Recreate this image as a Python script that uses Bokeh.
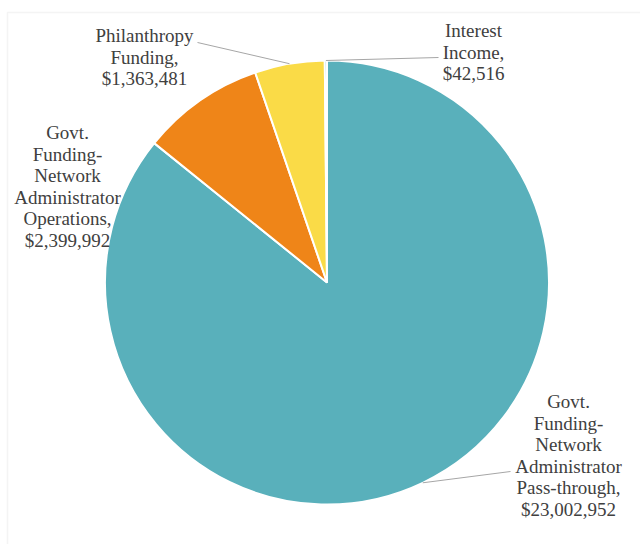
import numpy as np
from bokeh.plotting import figure
from bokeh.models import Range1d, ColumnDataSource, BoxAnnotation
from bokeh.core.properties import value
from bokeh.embed import file_html
from bokeh.resources import INLINE

# ---- data ----
categories = [
    "Govt. Funding-Network Administrator Pass-through",
    "Govt. Funding-Network Administrator Operations",
    "Philanthropy Funding",
    "Interest Income",
]
amounts = [23002952, 2399992, 1363481, 42516]
colors = ["#59B0BB", "#EF8518", "#FADB47", "#59B0BB"]
label_lines = [
    ["Govt.", "Funding-", "Network", "Administrator", "Pass-through,", "$23,002,952"],
    ["Govt.", "Funding-", "Network", "Administrator", "Operations,", "$2,399,992"],
    ["Philanthropy", "Funding,", "$1,363,481"],
    ["Interest", "Income,", "$42,516"],
]

# ---- layout (image pixel coords, y down) ----
W, H = 640, 544
CX, CY, R = 326.5, 282, 222
label_pos = [(568, 401), (67, 132), (144, 35), (473, 30)]  # centre x, first-line y
LINE_H = 21.5
leader_ends = [(510, 471), None, (197, 42), (438, 57)]

def Y(y):
    return H - y

p = figure(width=W, height=H, x_range=Range1d(0, W), y_range=Range1d(0, H),
           output_backend="svg", toolbar_location=None, min_border=0)
p.axis.visible = False
p.grid.visible = False
p.outline_line_color = None
p.background_fill_color = "white"
p.border_fill_color = "white"

# frame
p.add_layout(BoxAnnotation(left=7, right=W + 50, top=Y(12), bottom=-50,
                           fill_alpha=0, line_color="#D9D9D9", line_width=1.5))

vals = np.array(amounts, dtype=float)
frac = vals / vals.sum()
cum = np.concatenate([[0], np.cumsum(frac)])
start = np.pi / 2 - 2 * np.pi * cum[:-1]
end = np.pi / 2 - 2 * np.pi * cum[1:]
mid = (start + end) / 2

src = ColumnDataSource(dict(start=start, end=end, color=colors, cat=categories))
p.wedge(x=CX, y=Y(CY), radius=R, start_angle="start", end_angle="end",
        direction="clock", fill_color="color", line_color="white",
        line_width=2, source=src)

# leader lines
x0, y0, x1, y1 = [], [], [], []
for i, e in enumerate(leader_ends):
    if e is None:
        continue
    x0.append(CX + R * np.cos(mid[i]))
    y0.append(Y(CY) + R * np.sin(mid[i]))
    x1.append(e[0])
    y1.append(Y(e[1]))
p.segment(x0=x0, y0=y0, x1=x1, y1=y1, line_color="#A6A6A6", line_width=1)

# labels
tx, ty, tt = [], [], []
for (cx, fy), lines in zip(label_pos, label_lines):
    for k, t in enumerate(lines):
        tx.append(cx)
        ty.append(Y(fy + k * LINE_H))
        tt.append(t)
p.text(x=tx, y=ty, text=tt, text_align="center", text_baseline="middle",
       text_font=value("Liberation Serif"),
       text_font_size="19px", text_color="#404040")

open("out.html", "w").write(file_html(p, INLINE))
